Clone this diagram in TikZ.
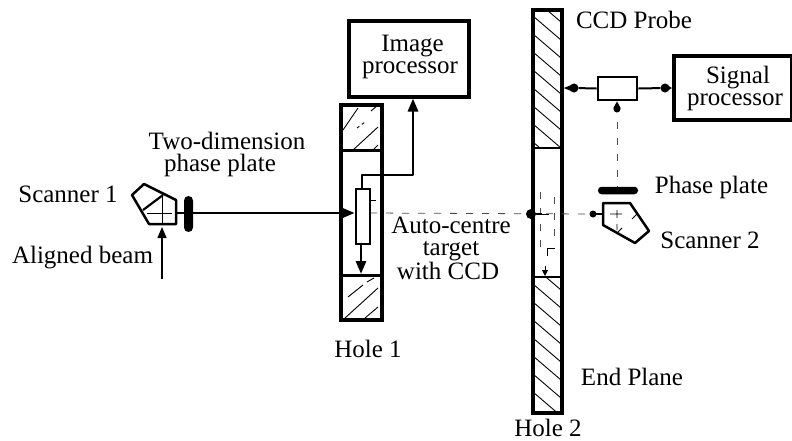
\documentclass[tikz,border=0pt]{standalone}
\usepackage{fontspec}
\setmainfont{Liberation Serif}
\usetikzlibrary{arrows.meta}
\tikzset{
 x=1pt,y=-1pt,
 lbl/.style={anchor=base,inner sep=0pt,font=\fontsize{25}{25}\selectfont},
 blk/.style={anchor=center,inner sep=0pt,align=center,font=\fontsize{25}{22}\selectfont},
 thick box/.style={draw,line width=4pt},
 mid box/.style={draw,line width=2.6pt,fill=white},
 conn/.style={line width=2.8pt},
 hatchl/.style={line width=0.9pt},
 dash thin/.style={line width=0.8pt,dash pattern=on 7pt off 9pt,black!70},
 tip/.style={-{Triangle[length=13pt,width=10pt]}},
 blob/.style={circle,fill=black,inner sep=0pt,minimum size=9pt},
 pt/.style={inner sep=0pt,minimum size=0pt},
}
\begin{document}
\begin{tikzpicture}
\useasboundingbox (0,0) rectangle (792,440);
% hatching hole 1
\draw[hatchl] (343,130) -- (358,108) (353,150) -- (378,127) (373,150) -- (378,145)
  (371,111) -- (378,105);
\draw[hatchl,dashed] (357,128) -- (365,122);
\draw[hatchl] (345,318) -- (378,288) (365,318) -- (378,307) (348,297) -- (363,285) (367,282) -- (374,278);
% hatching hole 2
\begin{scope}
\clip (533,10) rectangle (561,148);
\foreach \i in {-1,...,7} \draw[hatchl] (533,16+\i*18) -- ++(28,24);
\end{scope}
\begin{scope}
\clip (533,277) rectangle (561,413);
\foreach \i in {-1,...,7} \draw[hatchl] (533,284+\i*18) -- ++(28,24);
\end{scope}
% hole bodies
\node[thick box,pt,minimum width=41pt,minimum height=215pt] (hone) at (361.5,212.5) {};
\draw[line width=3pt] (341,150) -- (382,150) (341,275) -- (382,275);
\node[thick box,pt,minimum width=29pt,minimum height=403pt] (htwo) at (547,211.5) {};
\draw[line width=2.4pt] (533,148) -- (561,148) (533,277) -- (561,277);
% boxes
\node[thick box,pt,minimum width=120pt,minimum height=76pt] (imgp) at (409,58.5) {};
\node[thick box,pt,minimum width=118pt,minimum height=64pt] (sigp) at (733,88) {};
\node[mid box,pt,minimum width=14pt,minimum height=55pt] (target) at (363,216.5) {};
\node[mid box,pt,minimum width=39pt,minimum height=23pt] (small) at (617.5,88.5) {};
% inner dashed marks hole 2
\draw[dash thin] (540,192) -- (540,255);
\draw[dash thin] (554,197) -- (554,245);
\draw[line width=.8pt] (547,256) -- (547,248) -- (555,248);
\draw[line width=1pt,-{Triangle[length=6pt,width=6pt]}] (545,266) -- (545,276);
% scanner 1
\coordinate (sa) at (144,184);
\coordinate (sb) at (176,200);
\coordinate (sc) at (176,224);
\coordinate (sd) at (149,224);
\coordinate (se) at (132,195);
\draw[line width=2.5pt,line join=round] (sa) -- (sb) -- (sc) -- (sd) -- (se) -- cycle;
\draw[line width=2.2pt] (143,210) -- (163,195);
\draw[line width=.8pt] (162,195) -- (162,224) (147,213) -- (172,213);
\draw[line width=2.4pt] (176,213) -- (186,213);
\node[fill=black,rounded corners=4.5pt,minimum width=9pt,minimum height=36pt,inner sep=0pt] (pone) at (188.5,214) {};
\coordinate (ab) at (162,279);
\draw[line width=1.4pt,-{Triangle[length=11pt,width=9pt]}] (ab) -- (162,227);
% main beam
\draw[conn,tip] (pone.east |- 0,213) -- (target.west |- 0,213);
% target connections
\coordinate (up1) at (362,175);
\coordinate (up2) at (413,175);
\draw[conn,tip,line join=round] (target.north -| up1) -- (up1) -- (up2) -- (imgp.south -| up2);
\draw[conn,tip] (target.south -| 361,0) -- (361,274);
% dashed beam
\coordinate (sstub) at (590,214);
\draw[dash thin] (370,213) -- (sstub);
\draw[line width=.8pt] (370,200) -- (376,200) (370,200) -- (370,213);
\node[blob,minimum size=10pt] (jn) at (531,214) {};
\draw[line width=2.4pt] (jn) -- (542,214);
\draw[line width=.8pt] (542,214) -- (549,214);
% small box connections
\node[blob] (bl1) at (574,88) {};
\node[blob] (bl2) at (665,88) {};
\draw[line width=2pt] (small.west) -- (bl1);
\draw[line width=2pt] (small.east) -- (bl2);
\draw[line width=2pt,-{Triangle[length=11pt,width=8pt]}] (bl1) -- (htwo.east |- bl1);
\draw[line width=2pt,-{Triangle[length=7pt,width=8pt]}] (bl2) -- (sigp.west |- bl2);
% vertical dashed
\node[blob,minimum size=7pt] (bl3) at (617,109) {};
\draw[line width=1.6pt,-{Triangle[length=7pt,width=7pt]}] (bl3) -- (small.south -| bl3);
\coordinate (pt2) at (617,187);
\draw[dash thin] (617,122) -- (pt2);
% phase plate 2
\node[fill=black,rounded corners=3.5pt,minimum width=40pt,minimum height=7.5pt,inner sep=0pt] (ptwo) at (618,190.5) {};
% scanner 2
\draw[line width=2.5pt,line join=round] (603,203) -- (630,203) -- (649,231) -- (635,243) -- (603,225) -- cycle;
\draw[line width=.8pt] (617,210) -- (617,218) (617,224) -- (617,230) (610,214) -- (622,214) (632,219) -- (637,214);
\draw[line width=.8pt] (622,228) -- (618,232);
\draw[line width=2.4pt] (590,214) -- (603,214);
\node[blob,minimum size=7pt] (bl4) at (593,214) {};
% labels
\node[blk] (limg) at (410,56.5) {\hspace*{5pt}Image\\processor};
\node[blk] (ltwo) at (227,154) {Two-dimension\\phase plate\hspace*{14pt}};
\node[lbl] (lsc1) at (68,202) {Scanner 1};
\node[lbl] (lal) at (82.5,263) {Aligned beam};
\node[blk] (lauto) at (451,248.5) {Auto-centre\\target\hspace*{2pt}\\with CCD\hspace*{6pt}};
\node[lbl] (lh1) at (368,357) {Hole 1};
\node[lbl] (lh2) at (548,436) {Hole 2};
\node[lbl] (lccd) at (634,28) {CCD Probe};
\node[blk] (lsig) at (735,88) {\hspace*{6pt}Signal\\processor};
\node[lbl] (lpp) at (711.5,193) {Phase plate};
\node[lbl] (lsc2) at (710,248) {Scanner 2};
\node[lbl] (lend) at (632,385) {End Plane};
\end{tikzpicture}
\end{document}
